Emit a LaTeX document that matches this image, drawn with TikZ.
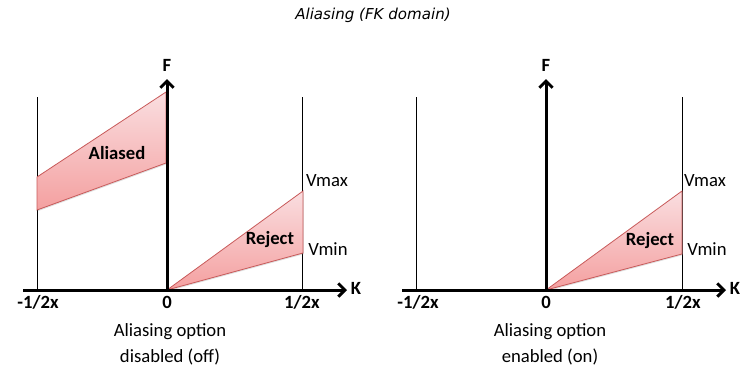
\documentclass[tikz,border=0pt]{standalone}
\usepackage{fontspec}
\setmainfont{Carlito}
\newfontfamily\titlefont{DejaVu Sans}
\usepackage{tikz}
\usetikzlibrary{arrows.meta}
\usetikzlibrary{calc}
\usetikzlibrary{shadows}

\definecolor{bandtop}{RGB}{250,222,224}
\definecolor{bandbot}{RGB}{244,160,160}
\definecolor{bandline}{RGB}{200,90,90}

\begin{document}
\begin{tikzpicture}[x=0.75pt, y=-0.75pt,
        axis_style/.style={draw=black, line width=2.25pt, -{Straight Barb[length=5pt,width=10pt]}},
        limit_style/.style={draw=black, line width=0.75pt},
        band_style/.style={draw=bandline, line width=0.6pt, top color=bandtop, bottom color=bandbot,
            drop shadow={opacity=0.25, shadow xshift=0.6pt, shadow yshift=-0.9pt}},
        label_style/.style={font=\fontsize{14}{16}\selectfont, inner sep=1pt},
        bold_label_style/.style={font=\fontsize{14}{16}\selectfont\bfseries, inner sep=1pt}]

        \useasboundingbox (0,0) rectangle (751,372);

        % title
        \node [font=\titlefont\itshape\fontsize{11.3}{13}\selectfont] (title) at (373,15) {Aliasing (FK domain)};

        % left panel: aliasing off
        \coordinate (l_start) at (23,290);
        \coordinate (l_end) at (347,290);
        \coordinate (l_o) at (167,290);
        \coordinate (l_ftop) at (167,79);
        \coordinate (l_neg) at (37,290);
        \coordinate (l_negtop) at (37,97);
        \coordinate (l_pos) at (302,290);
        \coordinate (l_postop) at (302,97);
        \coordinate (l_vmax) at (303,191);
        \coordinate (l_vmin) at (303,253);
        \coordinate (l_a1) at (37,177);
        \coordinate (l_a2) at (166,92);
        \coordinate (l_a3) at (166,163);
        \coordinate (l_a4) at (37,210);

        \draw [limit_style] (l_neg) -- (l_negtop);
        \draw [limit_style] (l_pos) -- (l_postop);

        \path [band_style] (l_a1) -- (l_a2) -- (l_a3) -- (l_a4) -- cycle;
        \path [band_style] (l_o) -- (l_vmax) -- (l_vmin) -- cycle;

        \draw [axis_style] (l_start) -- (l_end);
        \draw [axis_style] (l_o) -- (l_ftop);

        \node [bold_label_style] (l_F) at (167,65) {F};
        \node [bold_label_style] (l_K) at (356,288) {K};
        \node [bold_label_style] (l_negx) at (38,302) {-1/2x};
        \node [bold_label_style] (l_zero) at (167,302) {0};
        \node [bold_label_style] (l_posx) at (302,302) {1/2x};
        \node [label_style] (l_vmaxlbl) at (327,181) {Vmax};
        \node [label_style] (l_vminlbl) at (328,249) {Vmin};
        \node [bold_label_style] (l_reject) at (270,240) {Reject};
        \node [bold_label_style] (l_aliased) at (117,153) {Aliased};
        \node [label_style] (l_cap1) at (170,332) {Aliasing option};
        \node [label_style] (l_cap2) at (170,357) {disabled (off)};

        % right panel: aliasing on
        \coordinate (r_start) at (402,290);
        \coordinate (r_end) at (726,290);
        \coordinate (r_o) at (546,290);
        \coordinate (r_ftop) at (546,79);
        \coordinate (r_neg) at (416,290);
        \coordinate (r_negtop) at (416,97);
        \coordinate (r_pos) at (682,290);
        \coordinate (r_postop) at (682,97);
        \coordinate (r_vmax) at (682,191);
        \coordinate (r_vmin) at (682,254);

        \draw [limit_style] (r_neg) -- (r_negtop);
        \draw [limit_style] (r_pos) -- (r_postop);

        \path [band_style] (r_o) -- (r_vmax) -- (r_vmin) -- cycle;

        \draw [axis_style] (r_start) -- (r_end);
        \draw [axis_style] (r_o) -- (r_ftop);

        \node [bold_label_style] (r_F) at (546,65) {F};
        \node [bold_label_style] (r_K) at (735,288) {K};
        \node [bold_label_style] (r_negx) at (418,302) {-1/2x};
        \node [bold_label_style] (r_zero) at (546,302) {0};
        \node [bold_label_style] (r_posx) at (683,302) {1/2x};
        \node [label_style] (r_vmaxlbl) at (705,181) {Vmax};
        \node [label_style] (r_vminlbl) at (707,249) {Vmin};
        \node [bold_label_style] (r_reject) at (650,241) {Reject};
        \node [label_style] (r_cap1) at (550,332) {Aliasing option};
        \node [label_style] (r_cap2) at (550,357) {enabled (on)};

\end{tikzpicture}
\end{document}
